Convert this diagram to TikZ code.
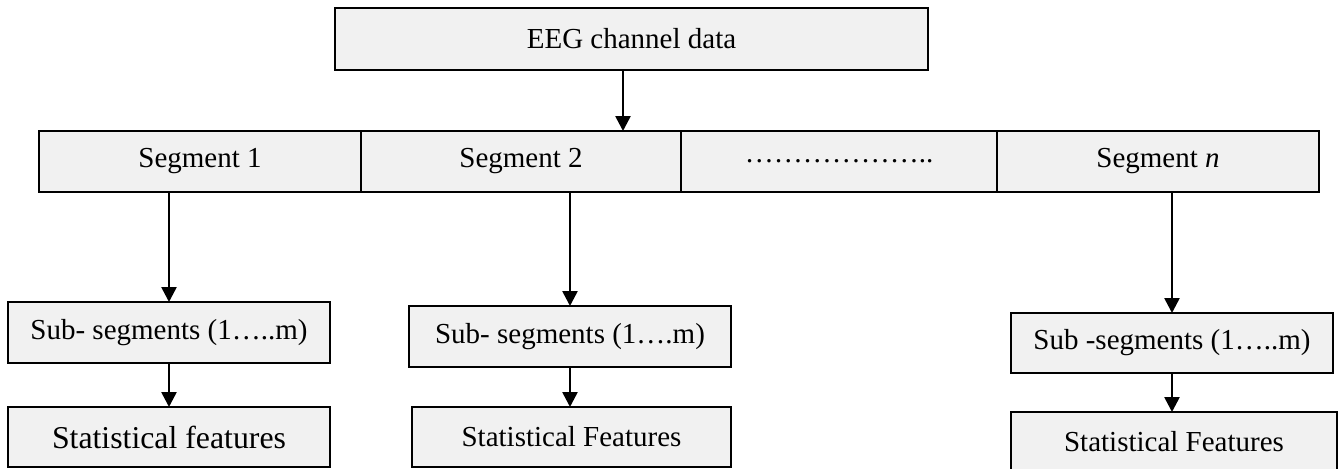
\documentclass[tikz,border=0pt]{standalone}
\usepackage{fontspec}
\setmainfont{Liberation Serif}
\usepackage{tikz}
\usetikzlibrary{positioning, arrows.meta}
\definecolor{boxgray}{RGB}{241,241,241}

\begin{document}
\begin{tikzpicture}[
        x=0.5pt, y=-0.5pt,
        every node/.style={font=\fontsize{14.5}{17}\selectfont},
        box/.style={rectangle, draw, line width=1pt, fill=boxgray, minimum width=161pt, minimum height=30.5pt, inner sep=0pt, outer sep=0pt, align=center},
        arrow/.style={-{Triangle[length=7.5pt, width=7.5pt]}, line width=1.3pt}
    ]
        \useasboundingbox (0,0) rectangle (1341,468);

        \node[box, minimum width=296.5pt, minimum height=31pt] (eeg) at (631.5,39) {EEG channel data};

        \node[box] (seg1) at (200,161.5) {Segment 1};
        \node[box, minimum width=160pt, right=0pt of seg1] (seg2) {Segment 2};
        \node[box, minimum width=158pt, right=0pt of seg2] (dots) {………………..};
        \node[box, right=0pt of dots] (segn) {Segment \textit{n}};

        \node[box] (sub1) at (169,332.5) {Sub- segments (1…..m)};
        \node[box] (sub2) at (570,336.5) {Sub- segments (1….m)};
        \node[box, minimum height=30pt] (subn) at (1172,343) {Sub -segments (1…..m)};

        \node[box, minimum height=30pt, font=\fontsize{15.9}{18}\selectfont] (stat1) at (169,437) {Statistical features};
        \node[box, minimum width=159.5pt, minimum height=30pt] (stat2) at (571.5,437) {Statistical Features};
        \node[box, minimum width=163pt, minimum height=30pt] (statn) at (1174,442) {Statistical Features};

        \draw[arrow] ([xshift=-4.25pt]eeg.south) -- ([xshift=-4.25pt]eeg.south |- seg2.north);
        \draw[arrow] (seg1.south -| sub1.north) -- (sub1.north);
        \draw[arrow] (seg2.south -| sub2.north) -- (sub2.north);
        \draw[arrow] (segn.south -| subn.north) -- (subn.north);
        \draw[arrow] (sub1) -- (stat1);
        \draw[arrow] (sub2.south) -- (sub2.south |- stat2.north);
        \draw[arrow] (subn.south) -- (subn.south |- statn.north);
    \end{tikzpicture}
\end{document}
